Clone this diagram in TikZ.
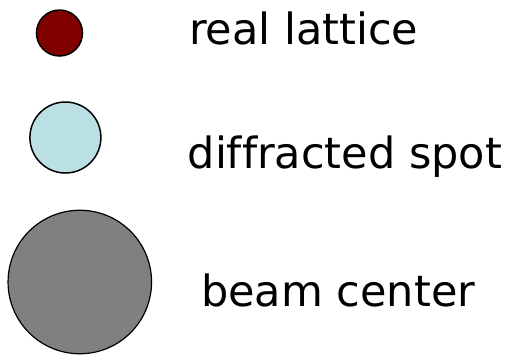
\documentclass[tikz,border=0pt]{standalone}
\usepackage{fontspec}
\setmainfont[Ligatures=NoCommon]{DejaVu Sans}
\usetikzlibrary{positioning}
\definecolor{latticeRed}{HTML}{800000}
\definecolor{spotCyan}{HTML}{BBE0E3}
\definecolor{beamGray}{HTML}{808080}
\tikzset{
    dot/.style={circle,draw=black,line width=1.5pt,inner sep=0pt},
    legendtext/.style={anchor=base west,inner sep=0pt,
        font=\fontsize{43}{50}\selectfont}
}

\begin{document}
\begin{tikzpicture}[x=1pt,y=-1pt]
        \useasboundingbox (0,0) rectangle (524,360);
        \node[dot,fill=latticeRed,minimum size=46pt] (lattice) at (59.5,33) {};
        \node[dot,fill=spotCyan,minimum size=71pt] (spot) at (65.4,137.5) {};
        \node[dot,fill=beamGray,line width=1.2pt,minimum size=143.5pt] (beam) at (79.8,282) {};
        \node[legendtext] (latticelabel) at (189,44.3) {real lattice};
        \node[legendtext] (spotlabel) at (187.5,168) {diffracted spot};
        \node[legendtext] (beamlabel) at (201,306.7) {beam center};
    \end{tikzpicture}
\end{document}
